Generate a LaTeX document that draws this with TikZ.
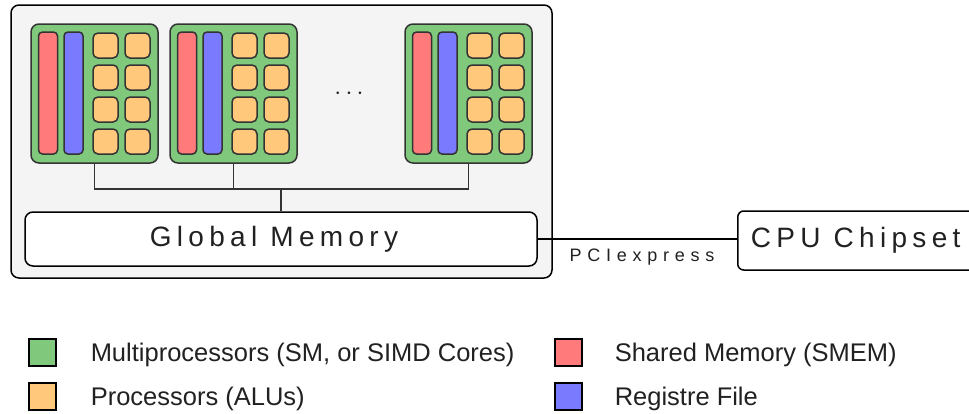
\documentclass[tikz,border=0pt]{standalone}
\usepackage{fontspec}
\setmainfont{Liberation Sans}
\definecolor{smgreen}{RGB}{128,200,124}
\definecolor{alucol}{RGB}{255,200,122}
\definecolor{smemred}{RGB}{255,122,122}
\definecolor{regblue}{RGB}{122,122,255}
\definecolor{framegray}{RGB}{244,244,244}
\definecolor{edgegray}{RGB}{51,51,51}
\tikzstyle{gpustyle}=[
    x=1pt, y=-1pt,
    line width=1.5pt,
    every node/.style={inner sep=0pt, text=black!87},
]
\tikzstyle{smbox}=[draw=edgegray, fill=smgreen, rounded corners=8pt,
    minimum width=127pt, minimum height=139pt]
\tikzstyle{alubox}=[draw=edgegray, fill=alucol, rounded corners=5pt,
    minimum size=25pt]
\tikzstyle{barbox}=[draw=edgegray, rounded corners=4pt,
    minimum width=19pt, minimum height=122pt]
\tikzstyle{membox}=[draw=black, fill=white, rounded corners=8pt]
\tikzstyle{keybox}=[draw=black, minimum size=27pt]
\tikzstyle{keytext}=[anchor=west, font=\fontsize{25.5}{27}\selectfont]
\tikzstyle{wire}=[draw=edgegray, line width=1.5pt]
\newcommand{\spaced}[1]{\addfontfeature{LetterSpace=19}#1}

\begin{document}
\begin{tikzpicture}[gpustyle]
    \useasboundingbox (0,0) rectangle (969,413);
    \node (gpu) at (281.5,141.5) [draw=black, fill=framegray, rounded corners=8pt,
        minimum width=541pt, minimum height=273pt] {};
    \foreach \i/\x in {1/31, 2/170, 3/405} {
        \node (sm\i) at (\x+63.5,93.5) [smbox] {};
        \node (smem\i) at (\x+17,93) [barbox, fill=smemred] {};
        \node (reg\i) at (\x+42.5,93) [barbox, fill=regblue] {};
        \foreach \r in {1,...,4} {
            \node (alu\i a\r) at (\x+74.5,13.5+32*\r) [alubox] {};
            \node (alu\i b\r) at (\x+106.5,13.5+32*\r) [alubox] {};
        }
    }
    \node (dots) at (349,94) {\fontsize{26}{26}\selectfont$\cdots$};
    \node (gmem) at (281,239) [membox, minimum width=512pt, minimum height=54pt] {};
    \node (gmemtext) at (274,239) {\fontsize{28}{30}\selectfont\spaced{Global Memory}};
    \coordinate (bus) at (gmem.north |- 0,189);
    \draw[wire] (sm1.south) |- (bus);
    \draw[wire] (sm2.south) -- (sm2.south |- bus);
    \draw[wire] (sm3.south) |- (bus);
    \draw[wire] (bus) -- (gmem.north);
    \node (cpu) at (737,240.5) [membox, anchor=west, rounded corners=6pt,
        minimum width=260pt, minimum height=59pt] {};
    \node (cputext) at ([xshift=13pt]cpu.west) [anchor=west]
        {\fontsize{28}{30}\selectfont\spaced{CPU Chipset}};
    \draw[black] (gmem.east) -- (gmem.east -| cpu.west);
    \node (pcie) at (642,257)
        {\fontsize{18}{20}\selectfont\addfontfeature{LetterSpace=32}PCIexpress};
    \node (k1) at (42.5,352.5) [keybox, fill=smgreen] {};
    \node (k2) at (42.5,396.5) [keybox, fill=alucol] {};
    \node (k3) at (568.5,352.5) [keybox, fill=smemred] {};
    \node (k4) at (568.5,396.5) [keybox, fill=regblue] {};
    \node (t1) at (90,355) [keytext] {Multiprocessors (SM, or SIMD Cores)};
    \node (t2) at (90,399) [keytext] {Processors (ALUs)};
    \node (t3) at (614,355) [keytext] {Shared Memory (SMEM)};
    \node (t4) at (614,399) [keytext] {Registre File};
\end{tikzpicture}
\end{document}
